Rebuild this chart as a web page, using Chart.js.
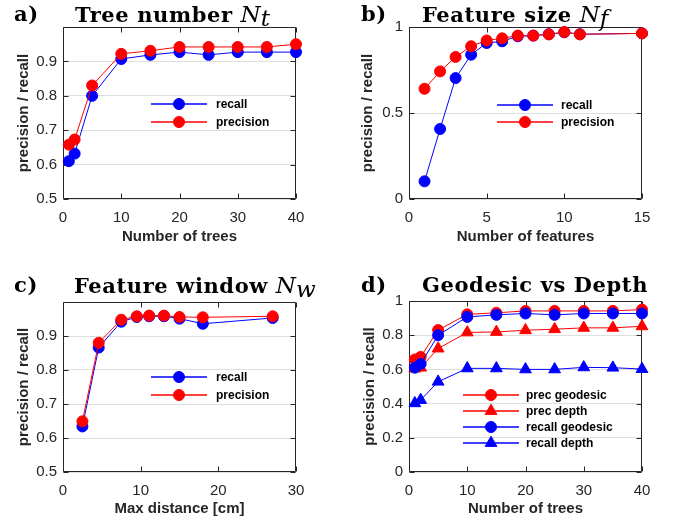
<!DOCTYPE html>
<html>
<head>
<meta charset="utf-8">
<script src="https://cdn.jsdelivr.net/npm/chart.js@4/dist/chart.umd.min.js"></script>
<style>
  html, body { margin: 0; padding: 0; background: #fff; }
  body { width: 678px; height: 521px; position: relative; overflow: hidden; }
  canvas { position: absolute; }
  .ttl { position: absolute; font-family: 'DejaVu Serif', serif; font-weight: bold; font-size: 21px; line-height: 20px; color: #000; white-space: nowrap; letter-spacing: 0.6px; }
  .ttl i { font-weight: normal; font-size: 23px; letter-spacing: 0; }
  .ttl sub { font-size: 15px; vertical-align: -4px; line-height: 0; }
</style>
</head>
<body>
<canvas id="chartA" width="339" height="260" style="left:0;top:0"></canvas>
<canvas id="chartB" width="339" height="260" style="left:339px;top:0"></canvas>
<canvas id="chartC" width="339" height="261" style="left:0;top:260px"></canvas>
<canvas id="chartD" width="339" height="261" style="left:339px;top:260px"></canvas>

<div class="ttl" style="left:14px;top:4px">a)</div>
<div class="ttl" style="left:75px;top:4px">Tree number <i>N</i><sub><i>t</i></sub></div>
<div class="ttl" style="left:361px;top:4px">b)</div>
<div class="ttl" style="left:422px;top:4px">Feature size <i>N</i><sub><i>f</i></sub></div>
<div class="ttl" style="left:14px;top:275px">c)</div>
<div class="ttl" style="left:74px;top:275px">Feature window <i>N</i><sub><i>w</i></sub></div>
<div class="ttl" style="left:361px;top:275px">d)</div>
<div class="ttl" style="left:422px;top:275px">Geodesic vs Depth</div>

<script>
// ---- data ----
var treeCounts = [1, 2, 5, 10, 15, 20, 25, 30, 35, 40];
var treeRecall = [0.61, 0.632, 0.80, 0.907, 0.919, 0.927, 0.919, 0.927, 0.927, 0.927];
var treePrecision = [0.658, 0.673, 0.83, 0.922, 0.931, 0.942, 0.942, 0.942, 0.942, 0.95];

var featureCounts = [1, 2, 3, 4, 5, 6, 7, 8, 9, 10, 11, 15];
var featureRecall = [0.103, 0.407, 0.703, 0.839, 0.907, 0.917, 0.946, 0.95, 0.958, 0.969, 0.958, 0.963];
var featurePrecision = [0.641, 0.742, 0.826, 0.888, 0.922, 0.934, 0.95, 0.95, 0.957, 0.971, 0.957, 0.963];

var windowDistances = [2.5, 4.6, 7.5, 9.5, 11.1, 13, 15, 18, 27];
var windowRecall = [0.634, 0.866, 0.942, 0.956, 0.958, 0.958, 0.951, 0.936, 0.953];
var windowPrecision = [0.649, 0.88, 0.948, 0.958, 0.96, 0.96, 0.956, 0.955, 0.958];

var depthPrecision = [0.605, 0.61, 0.722, 0.816, 0.819, 0.829, 0.835, 0.843, 0.843, 0.852];
var depthRecall = [0.402, 0.421, 0.528, 0.606, 0.606, 0.60, 0.60, 0.612, 0.61, 0.602];

// tick labels
var treeXTicks = [0, 10, 20, 30, 40];
var featureXTicks = [0, 5, 10, 15];
var windowXTicks = [0, 10, 20, 30];
var prYTicks = [0.5, 0.6, 0.7, 0.8, 0.9];
var halfYTicks = [0, 0.5, 1];
var fifthYTicks = [0, 0.2, 0.4, 0.6, 0.8, 1];

var RED = '#ff0000';
var BLUE = '#0000ff';
var INK = '#262626';
var SANS = '"Liberation Sans", Arial, Helvetica, sans-serif';

function xyPoints(xs, ys) {
   return xs.map(function (x, i) { return {x: x, y: ys[i]}; });
}

function series(label, xs, ys, color, style, order) {
   return {
      label: label,
      data: xyPoints(xs, ys),
      borderColor: color,
      backgroundColor: color,
      borderWidth: 1,
      pointStyle: style,
      pointRadius: style === 'triangle' ? 6.8 : 5.5,
      pointBorderWidth: 1,
      pointHoverRadius: 5.5,
      tension: 0,
      fill: false,
      clip: false,
      order: order
   };
}

// box round the plot with inward ticks, drawn under the data like matlab
var boxPlugin = {
   id: 'matlabBox',
   beforeDatasetsDraw: function (chart) {
      var a = chart.chartArea, ctx = chart.ctx;
      var xs = chart.scales.x, ys = chart.scales.y;
      var l = Math.round(a.left) + 0.5, r = Math.round(a.right) - 0.5;
      var t = Math.round(a.top) + 0.5, b = Math.round(a.bottom) - 0.5;
      ctx.save();
      ctx.strokeStyle = INK;
      ctx.lineWidth = 1;
      ctx.beginPath();
      ctx.rect(l, t, r - l, b - t);
      xs.ticks.forEach(function (tk) {
         var px = Math.round(xs.getPixelForValue(tk.value)) + 0.5;
         ctx.moveTo(px, b); ctx.lineTo(px, b - 5);
         ctx.moveTo(px, t); ctx.lineTo(px, t + 5);
      });
      ys.ticks.forEach(function (tk) {
         var py = Math.round(ys.getPixelForValue(tk.value)) + 0.5;
         ctx.moveTo(l, py); ctx.lineTo(l + 5, py);
         ctx.moveTo(r, py); ctx.lineTo(r - 5, py);
      });
      ctx.stroke();
      ctx.restore();
   }
};

// legend inside the axes, no box
var legendPlugin = {
   id: 'matlabLegend',
   afterDatasetsDraw: function (chart, args, opts) {
      var ctx = chart.ctx;
      chart.data.datasets.forEach(function (ds, i) {
         var y = opts.rows[i];
         var color = ds.backgroundColor;
         ctx.save();
         ctx.strokeStyle = color;
         ctx.fillStyle = color;
         ctx.lineWidth = 1.3;
         ctx.beginPath();
         ctx.moveTo(opts.x - 28, y);
         ctx.lineTo(opts.x + 28, y);
         ctx.stroke();
         ctx.lineWidth = 1;
         Chart.helpers.drawPoint(ctx, {
            pointStyle: ds.pointStyle, radius: ds.pointRadius, rotation: 0, borderWidth: 1
         }, opts.x, y);
         ctx.fillStyle = '#000';
         ctx.font = 'bold 12px ' + SANS;
         ctx.textBaseline = 'middle';
         ctx.textAlign = 'left';
         ctx.fillText(ds.label, opts.textX, y + 1);
         ctx.restore();
      });
   }
};

function makePanel(id, p) {
   var ctx = document.getElementById(id).getContext('2d');
   return new Chart(ctx, {
      type: 'line',
      data: {datasets: p.datasets},
      plugins: [boxPlugin, legendPlugin],
      options: {
         responsive: false,
         animation: false,
         devicePixelRatio: 1,
         events: [],
         layout: {padding: p.padding},
         plugins: {
            legend: {display: false},
            tooltip: {enabled: false},
            title: {display: false},
            matlabLegend: p.legend
         },
         scales: {
            x: {
               type: 'linear',
               min: p.xMin, max: p.xMax,
               afterBuildTicks: function (s) { s.ticks = p.xTicks.map(function (v) { return {value: v}; }); },
               afterFit: function (s) { s.height = p.xHeight; },
               grid: {display: false, drawTicks: false},
               border: {display: false},
               ticks: {
                  color: INK, padding: 10, maxRotation: 0, autoSkip: false,
                  font: {family: SANS, size: 15},
                  callback: function (v) { return String(+v.toFixed(2)); }
               },
               title: {
                  display: true, text: p.xLabel, color: INK,
                  font: {family: SANS, size: 15, weight: 'bold'},
                  padding: {top: 0, bottom: p.xTitlePad}
               }
            },
            y: {
               type: 'linear',
               min: p.yMin, max: p.yMax,
               afterBuildTicks: function (s) { s.ticks = p.yTicks.map(function (v) { return {value: v}; }); },
               afterFit: function (s) { s.width = p.yWidth; },
               grid: {color: '#dedede', lineWidth: 1, drawTicks: false},
               border: {display: false},
               ticks: {
                  color: INK, padding: 6,
                  font: {family: SANS, size: 15},
                  callback: function (v) { return String(+v.toFixed(2)); }
               },
               title: {
                  display: true, text: 'precision / recall', color: INK,
                  font: {family: SANS, size: 15, weight: 'bold'},
                  padding: {top: p.yTitlePad, bottom: 0}
               }
            }
         }
      }
   });
}

// a) tree number
makePanel('chartA', {
   datasets: [
      series('recall', treeCounts, treeRecall, BLUE, 'circle', 2),
      series('precision', treeCounts, treePrecision, RED, 'circle', 1)
   ],
   xMin: 0, xMax: 40, xTicks: treeXTicks,
   yMin: 0.5, yMax: 1, yTicks: prYTicks,
   xLabel: 'Number of trees',
   padding: {left: 0, right: 43, top: 27, bottom: 11},
   xHeight: 50, yWidth: 63, xTitlePad: 3, yTitlePad: 15,
   legend: {x: 179, textX: 216, rows: [104, 122]}
});

// b) feature size
makePanel('chartB', {
   datasets: [
      series('recall', featureCounts, featureRecall, BLUE, 'circle', 2),
      series('precision', featureCounts, featurePrecision, RED, 'circle', 1)
   ],
   xMin: 0, xMax: 15, xTicks: featureXTicks,
   yMin: 0, yMax: 1, yTicks: halfYTicks,
   xLabel: 'Number of features',
   padding: {left: 0, right: 36, top: 27, bottom: 11},
   xHeight: 50, yWidth: 70, xTitlePad: 3, yTitlePad: 20,
   legend: {x: 186, textX: 222, rows: [105, 122]}
});

// c) feature window
makePanel('chartC', {
   datasets: [
      series('recall', windowDistances, windowRecall, BLUE, 'circle', 2),
      series('precision', windowDistances, windowPrecision, RED, 'circle', 1)
   ],
   xMin: 0, xMax: 30, xTicks: windowXTicks,
   yMin: 0.5, yMax: 1, yTicks: prYTicks,
   xLabel: 'Max distance [cm]',
   padding: {left: 0, right: 43, top: 42, bottom: 1},
   xHeight: 48, yWidth: 63, xTitlePad: 2, yTitlePad: 15,
   legend: {x: 179, textX: 216, rows: [117, 135]}
});

// d) geodesic vs depth
makePanel('chartD', {
   datasets: [
      series('prec geodesic', treeCounts, treePrecision, RED, 'circle', 4),
      series('prec depth', treeCounts, depthPrecision, RED, 'triangle', 3),
      series('recall geodesic', treeCounts, treeRecall, BLUE, 'circle', 2),
      series('recall depth', treeCounts, depthRecall, BLUE, 'triangle', 1)
   ],
   xMin: 0, xMax: 40, xTicks: treeXTicks,
   yMin: 0, yMax: 1, yTicks: fifthYTicks,
   xLabel: 'Number of trees',
   padding: {left: 0, right: 36, top: 41, bottom: 1},
   xHeight: 48, yWidth: 70, xTitlePad: 2, yTitlePad: 22,
   legend: {x: 152, textX: 187, rows: [135, 151, 167, 183]}
});
</script>
</body>
</html>
